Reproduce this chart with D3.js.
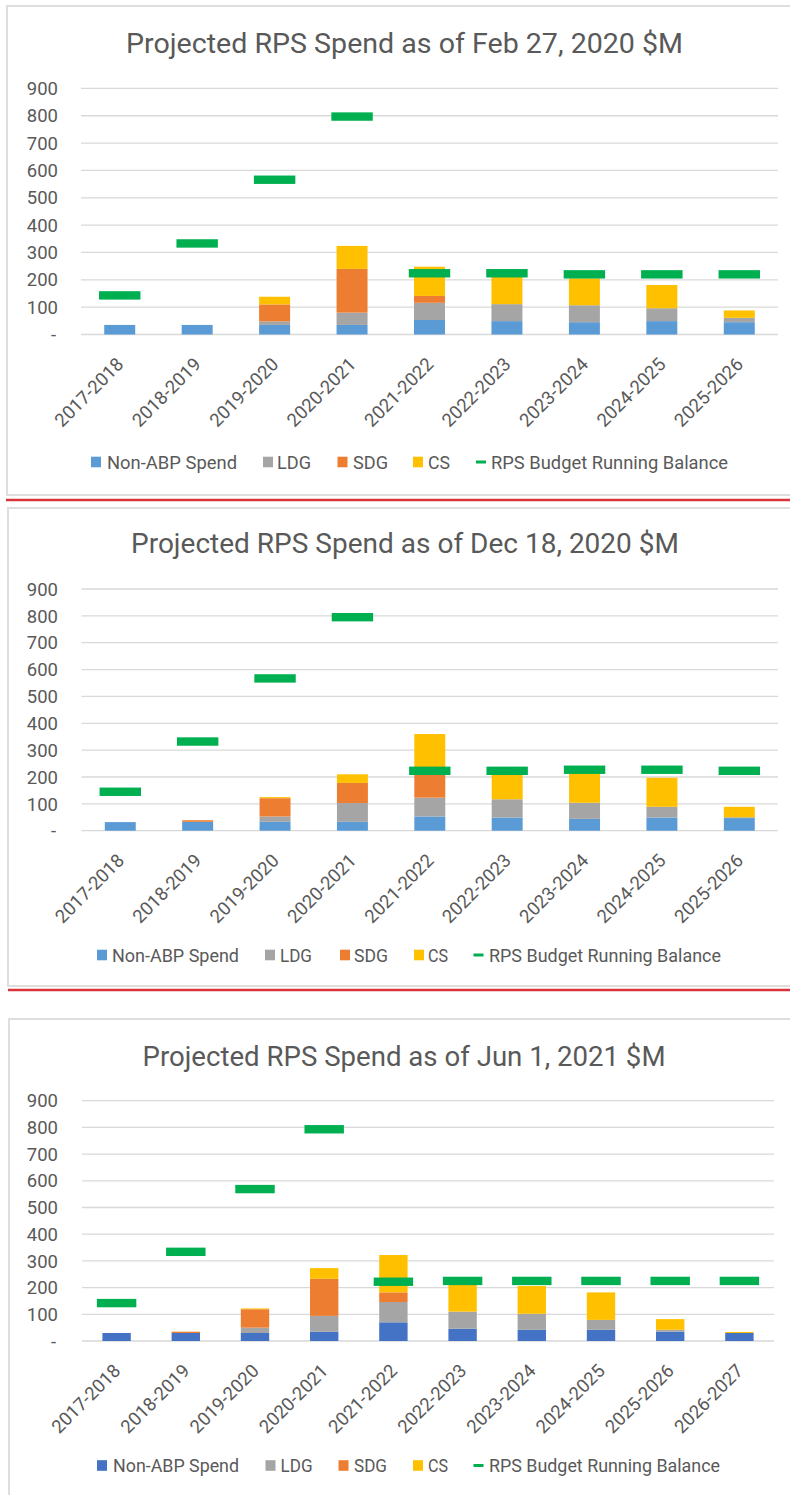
<!DOCTYPE html>
<html>
<head>
<meta charset="utf-8">
<script src="https://cdn.jsdelivr.net/npm/d3@7/dist/d3.min.js"></script>
<style>
body { margin: 0; background: #fff; }
text { font-family: Roboto, "Liberation Sans", sans-serif; fill: #595959; }
</style>
</head>
<body>
<svg id="chart" width="790" height="1495"></svg>
<script>
var seriesNames = ["Non-ABP Spend", "LDG", "SDG", "CS"],
		lineName = "RPS Budget Running Balance",
		yTicks = [0, 100, 200, 300, 400, 500, 600, 700, 800, 900];

// Feb 27, 2020
var title1 = "Projected RPS Spend as of Feb 27, 2020 $M",
		years1 = ["2017-2018", "2018-2019", "2019-2020", "2020-2021", "2021-2022", "2022-2023", "2023-2024", "2024-2025", "2025-2026"],
		nonAbp1 = [35, 35, 35, 35, 53, 49, 45, 49, 45],
		ldg1 = [0, 0, 13, 45, 63, 62, 62, 47, 16],
		sdg1 = [0, 0, 62, 160, 25, 0, 0, 0, 0],
		cs1 = [0, 0, 28, 84, 107, 102, 98, 85, 27],
		balance1 = [143, 333, 566, 797, 224, 224, 220, 220, 220];

// Dec 18, 2020
var title2 = "Projected RPS Spend as of Dec 18, 2020 $M",
		years2 = ["2017-2018", "2018-2019", "2019-2020", "2020-2021", "2021-2022", "2022-2023", "2023-2024", "2024-2025", "2025-2026"],
		nonAbp2 = [32, 33, 33, 33, 53, 49, 44, 49, 47],
		ldg2 = [0, 0, 20, 70, 70, 68, 60, 40, 3],
		sdg2 = [0, 6, 68, 75, 92, 0, 0, 0, 0],
		cs2 = [0, 0, 4, 32, 145, 93, 111, 108, 39],
		balance2 = [145, 332, 567, 795, 223, 223, 227, 227, 223];

// Jun 1, 2021
var title3 = "Projected RPS Spend as of Jun 1, 2021 $M",
		years3 = ["2017-2018", "2018-2019", "2019-2020", "2020-2021", "2021-2022", "2022-2023", "2023-2024", "2024-2025", "2025-2026", "2026-2027"],
		nonAbp3 = [30, 30, 30, 35, 70, 46, 42, 42, 35, 30],
		ldg3 = [0, 0, 20, 59, 76, 64, 60, 37, 7, 0],
		sdg3 = [0, 5, 69, 139, 36, 0, 0, 0, 0, 0],
		cs3 = [0, 0, 3, 40, 140, 100, 104, 103, 40, 4],
		balance3 = [142, 334, 569, 793, 222, 225, 225, 225, 225, 225];

var svg = d3.select("#chart");

function drawPanel(p) {
	var g = svg.append("g");

	// frame
	g.append("rect")
		.attr("x", p.frame[0])
		.attr("y", p.frame[1])
		.attr("width", 800 - p.frame[0])
		.attr("height", p.frame[2] - p.frame[1])
		.attr("fill", "#fff")
		.attr("stroke", "#dedede")
		.attr("stroke-width", 2);

	g.append("text")
		.attr("x", p.titleX)
		.attr("y", p.titleY)
		.attr("text-anchor", "middle")
		.attr("font-size", 27)
		.attr("textLength", p.titleW)
		.attr("lengthAdjust", "spacingAndGlyphs")
		.text(p.title);

	var x = d3.scaleBand().domain(p.years).range([p.x0, p.x1]);
	var y = d3.scaleLinear().domain([0, 900]).range([p.yBase, p.yTop]);
	var bw = x.bandwidth(),
			barW = bw * p.barRatio,
			markW = bw * p.markRatio;

	// grid
	g.selectAll(".grid")
		.data(yTicks)
		.enter().append("line")
			.attr("x1", p.x0).attr("x2", p.x1)
			.attr("y1", function(d) { return y(d); })
			.attr("y2", function(d) { return y(d); })
			.attr("stroke", "#d9d9d9")
			.attr("stroke-width", 1.3);

	g.selectAll(".ytick")
		.data(yTicks)
		.enter().append("text")
			.attr("x", function(d) { return d ? 58 : 56; })
			.attr("y", function(d) { return y(d); })
			.attr("dy", "0.36em")
			.attr("text-anchor", "end")
			.attr("font-size", 18.5)
			.text(function(d) { return d ? d : "-"; });

	var rows = p.years.map(function(yr, i) {
		return { year: yr, s0: p.values[0][i], s1: p.values[1][i], s2: p.values[2][i], s3: p.values[3][i] };
	});
	var stack = d3.stack().keys(["s0", "s1", "s2", "s3"]);
	var layers = stack(rows);

	g.selectAll(".layer")
		.data(layers)
		.enter().append("g")
			.attr("fill", function(d, i) { return p.colors[i]; })
		.selectAll("rect")
		.data(function(d) { return d; })
		.enter().append("rect")
			.attr("x", function(d) { return x(d.data.year) + (bw - barW) / 2; })
			.attr("width", barW)
			.attr("y", function(d) { return y(d[1]); })
			.attr("height", function(d) { return Math.max(0, y(d[0]) - y(d[1])); });

	// running balance markers
	g.selectAll(".mark")
		.data(p.balance)
		.enter().append("rect")
			.attr("x", function(d, i) { return x(p.years[i]) + (bw - markW) / 2; })
			.attr("y", function(d) { return y(d) - 4.2; })
			.attr("width", markW)
			.attr("height", 8.4)
			.attr("fill", "#00B050");

	g.selectAll(".xlab")
		.data(p.years)
		.enter().append("text")
			.attr("text-anchor", "end")
			.attr("font-size", 18.5)
			.attr("transform", function(d) {
				var cx = x(d) + bw / 2 + 5, cy = p.yBase + p.labelDy;
				return "translate(" + cx + "," + cy + ") rotate(-45)";
			})
			.text(function(d) { return d; });

	// legend
	var legendNames = seriesNames.concat([lineName]);
	legendNames.forEach(function(name, i) {
		if(i < 4) {
			g.append("rect")
				.attr("x", p.legSw[i])
				.attr("y", p.legendY - 5.3)
				.attr("width", 10)
				.attr("height", 10.6)
				.attr("fill", p.colors[i]);
		} else {
			g.append("rect")
				.attr("x", p.legSw[i])
				.attr("y", p.legendY - 1.5)
				.attr("width", 10)
				.attr("height", 3)
				.attr("fill", "#00B050");
		}
		g.append("text")
			.attr("x", p.legTx[i])
			.attr("y", p.legendY)
			.attr("dy", "0.36em")
			.attr("font-size", 18.5)
			.attr("textLength", p.legW[i])
			.attr("lengthAdjust", "spacingAndGlyphs")
			.text(name);
	});
}

drawPanel({
	title: title1, years: years1, values: [nonAbp1, ldg1, sdg1, cs1], balance: balance1,
	colors: ["#5B9BD5", "#A5A5A5", "#ED7D31", "#FFC000"],
	frame: [7, 6, 495], titleX: 404.5, titleY: 52.5, titleW: 557,
	x0: 81, x1: 778, yBase: 334.5, yTop: 88.4, barRatio: 0.4, markRatio: 0.535, labelDy: 31,
	legendY: 462, legSw: [91, 263, 337.5, 413, 476], legTx: [107, 277, 353, 428, 491], legW: [130, 34, 35, 22, 237]
});

drawPanel({
	title: title2, years: years2, values: [nonAbp2, ldg2, sdg2, cs2], balance: balance2,
	colors: ["#5B9BD5", "#A5A5A5", "#ED7D31", "#FFC000"],
	frame: [8, 508, 986], titleX: 405, titleY: 553, titleW: 548,
	x0: 81.6, x1: 778, yBase: 830.7, yTop: 589, barRatio: 0.4, markRatio: 0.535, labelDy: 31,
	legendY: 955, legSw: [97, 265, 340, 414, 473.5], legTx: [112, 280, 354, 428, 489], legW: [127, 32, 34, 20, 232]
});

drawPanel({
	title: title3, years: years3, values: [nonAbp3, ldg3, sdg3, cs3], balance: balance3,
	colors: ["#4472C4", "#A5A5A5", "#ED7D31", "#FFC000"],
	frame: [9, 1019, 1510], titleX: 404, titleY: 1066, titleW: 523,
	x0: 82, x1: 774, yBase: 1341, yTop: 1100.7, barRatio: 0.41, markRatio: 0.57, labelDy: 31,
	legendY: 1465.5, legSw: [97, 265.5, 338.5, 413, 473.5], legTx: [113, 280.6, 354, 428, 489], legW: [126, 32, 33, 20, 231]
});

// red separators
svg.append("line").attr("x1", 6).attr("x2", 790).attr("y1", 500).attr("y2", 500)
	.attr("stroke", "#D9343C").attr("stroke-width", 2.5);
svg.append("line").attr("x1", 8).attr("x2", 790).attr("y1", 990).attr("y2", 990)
	.attr("stroke", "#D9343C").attr("stroke-width", 2.5);
</script>
</body>
</html>
